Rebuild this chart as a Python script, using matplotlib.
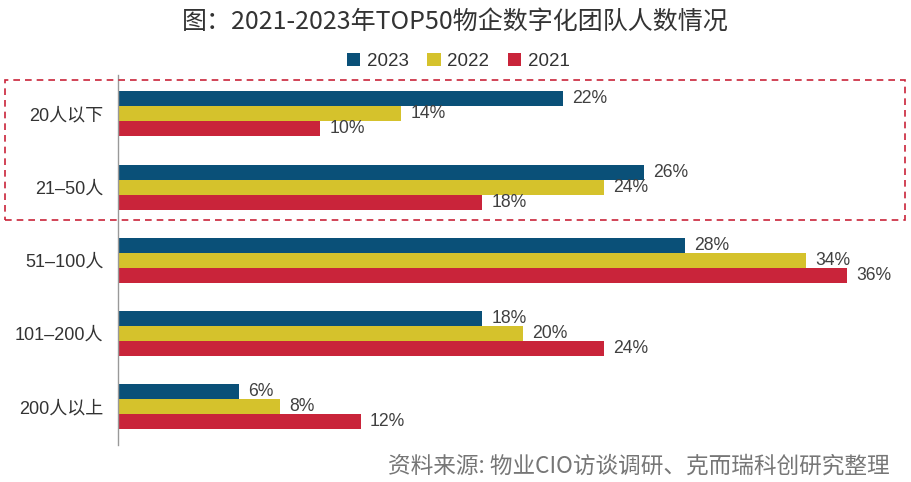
import matplotlib
matplotlib.use("Agg")
import numpy as np
import matplotlib.pyplot as plt
from matplotlib.patches import Rectangle

plt.rcParams['font.family'] = ['Noto Sans CJK SC', 'DejaVu Sans']
num_font = ['Liberation Sans', 'Noto Sans CJK SC']

# 数据
categories = ["20人以下", "21–50人", "51–100人", "101–200人", "200人以上"]
years = ["2023", "2022", "2021"]
v2023 = [22, 26, 28, 18, 6]
v2022 = [14, 24, 34, 20, 8]
v2021 = [10, 18, 36, 24, 12]
colors = ["#0A5078", "#D5C22C", "#C9243A"]

fig = plt.figure(figsize=(9.11, 4.82), dpi=100)
ax = fig.add_axes([0.1295, 0.0768, 0.8445, 0.7676])

y = np.arange(len(categories))
h = 0.205
for i, (vals, yr, c) in enumerate(zip([v2023, v2022, v2021], years, colors)):
    pos = y + (i - 1) * h
    ax.barh(pos, vals, height=h, color=c, label=yr)
    for p, v in zip(pos, vals):
        ax.text(v + 0.45, p, f"{v}%", va="center", ha="left",
                fontsize=12.7, color="#404040", family=num_font)

ax.set_xlim(0, 38)
ax.set_ylim(4.52, -0.53)
ax.set_yticks(y)
ax.set_yticklabels(categories, fontsize=13, color="#333333", family=num_font)
ax.tick_params(axis="y", length=0, pad=10.5)
ax.set_xticks([])
for s in ["top", "right", "bottom"]:
    ax.spines[s].set_visible(False)
ax.spines["left"].set_color("#999999")
ax.spines["left"].set_linewidth(1)

fig.text(0.5, 0.955, "图：2021-2023年TOP50物企数字化团队人数情况",
         ha="center", va="center", fontsize=18, color="#333333")
fig.legend(loc="center", bbox_to_anchor=(0.503, 0.872), ncol=3, frameon=False,
           prop={'family': num_font, 'size': 13.5}, handlelength=0.7,
           handleheight=0.7, handletextpad=0.35, columnspacing=1.0,
           labelcolor="#333333")

# 虚线框
rect = Rectangle((5 / 911, 1 - 220 / 482), 900 / 911, 140 / 482,
                 transform=fig.transFigure, fill=False, linestyle=(0, (4, 3)),
                 edgecolor="#C9243A", linewidth=1.2)
fig.patches.append(rect)

fig.text(890 / 911, 1 - 466 / 482, "资料来源: 物业CIO访谈调研、克而瑞科创研究整理",
         ha="right", va="center", fontsize=16.3, color="#767676")

fig.savefig("out.png", dpi=100)
